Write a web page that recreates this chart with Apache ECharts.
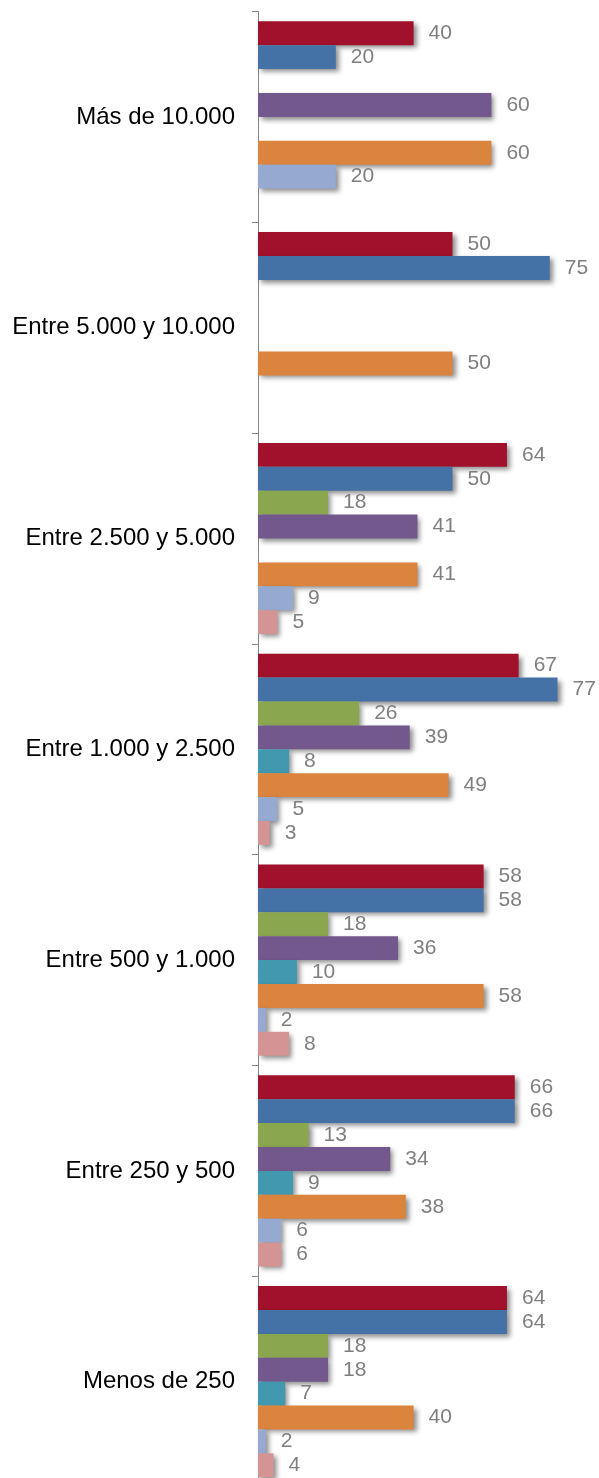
<!DOCTYPE html>
<html>
<head>
<meta charset="utf-8">
<script src="https://cdn.jsdelivr.net/npm/echarts@6/dist/echarts.min.js"></script>
<style>
  html, body { margin: 0; padding: 0; background: #ffffff; overflow: hidden; }
  /* the plot runs a little past the bottom edge of the page */
  #chart { width: 599px; height: 1500px; }
</style>
</head>
<body>
<div id="chart"></div>
<script>
// Municipality size bands, top to bottom
const categories = [
  'Más de 10.000',
  'Entre 5.000 y 10.000',
  'Entre 2.500 y 5.000',
  'Entre 1.000 y 2.500',
  'Entre 500 y 1.000',
  'Entre 250 y 500',
  'Menos de 250'
];

// One array per series, in band order (null = no bar)
const serie1 = [40, 50, 64, 67, 58, 66, 64];
const serie2 = [20, 75, 50, 77, 58, 66, 64];
const serie3 = [null, null, 18, 26, 18, 13, 18];
const serie4 = [60, null, 41, 39, 36, 34, 18];
const serie5 = [null, null, null, 8, 10, 9, 7];
const serie6 = [60, 50, 41, 49, 58, 38, 40];
const serie7 = [20, null, 9, 5, 2, 6, 2];
const serie8 = [null, null, 5, 3, 8, 6, 4];

const seriesNames = ['Serie 1', 'Serie 2', 'Serie 3', 'Serie 4', 'Serie 5', 'Serie 6', 'Serie 7', 'Serie 8'];
const seriesData = [serie1, serie2, serie3, serie4, serie5, serie6, serie7, serie8];
const colors = ['#A1112B', '#4472A6', '#8AA64F', '#72588C', '#4198AF', '#DB843D', '#95A9D1', '#D49493'];

const chart = echarts.init(document.getElementById('chart'), null, { renderer: 'canvas' });

chart.setOption({
  animation: false,
  backgroundColor: '#ffffff',
  grid: { left: 258, top: 11.5, width: 311.2, height: 1475.6, containLabel: false },
  xAxis: {
    type: 'value',
    min: 0,
    max: 80,
    show: false
  },
  yAxis: {
    type: 'category',
    inverse: true,
    data: categories,
    axisLine: { show: true, lineStyle: { color: '#868686', width: 1 } },
    axisTick: { show: true, inside: false, length: 6, lineStyle: { color: '#868686' } },
    axisLabel: {
      margin: 23,
      color: '#000000',
      fontSize: 24,
      fontFamily: 'Liberation Sans, Arial, sans-serif'
    },
    splitLine: { show: false }
  },
  series: seriesData.map((d, i) => ({
    name: seriesNames[i],
    type: 'bar',
    data: d,
    barGap: '0%',
    barCategoryGap: '9.3%',
    itemStyle: {
      color: colors[i],
      shadowColor: 'rgba(0,0,0,0.45)',
      shadowBlur: 5,
      shadowOffsetX: 3,
      shadowOffsetY: 3
    },
    label: {
      show: true,
      position: 'right',
      distance: 15,
      color: '#7F7F7F',
      fontSize: 21,
      fontFamily: 'Liberation Sans, Arial, sans-serif'
    }
  }))
});
</script>
</body>
</html>
